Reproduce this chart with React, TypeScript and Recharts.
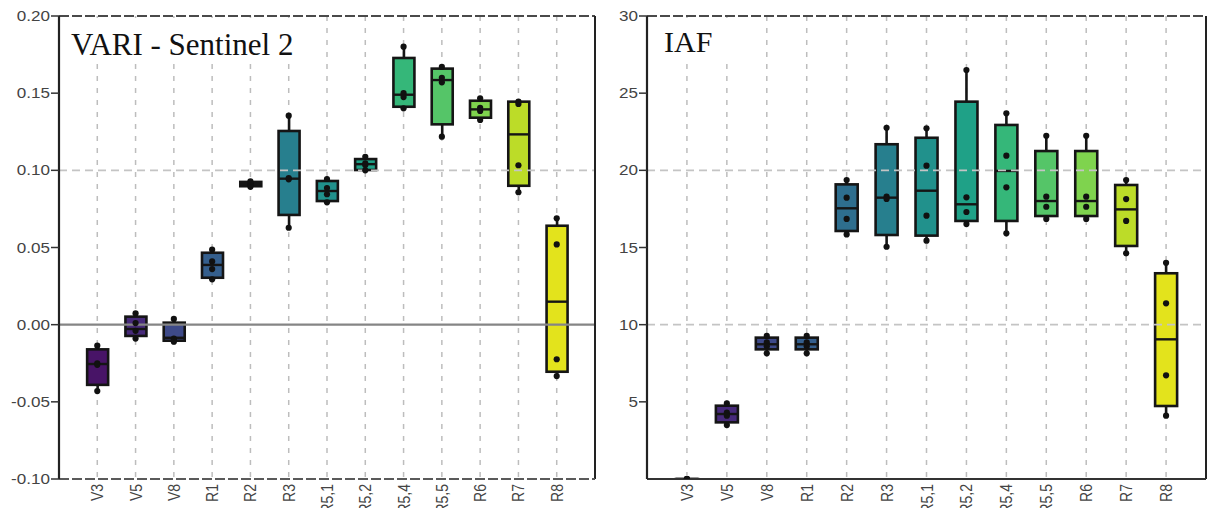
import React from 'react';
import { ComposedChart, Bar, Scatter, XAxis, YAxis, CartesianGrid, ReferenceLine } from 'recharts';

const categories = ['V3', 'V5', 'V8', 'R1', 'R2', 'R3', 'R5,1', 'R5,2', 'R5,4', 'R5,5', 'R6', 'R7', 'R8'];
const boxColors = ['#481467', '#472a7a', '#3e4a89', '#355f8d', '#2e6e8e', '#277f8e', '#21918c', '#1fa187', '#35b779', '#55c568', '#7fd34e', '#bcdc28', '#e3e31c'];

// VARI - Sentinel 2
const variMin = [-0.043, -0.009, -0.011, 0.0294, 0.0893, 0.0628, 0.0793, 0.1, 0.1402, 0.1218, 0.1326, 0.0858, -0.0333];
const variQ1 = [-0.039, -0.0073, -0.0104, 0.0304, 0.0897, 0.0711, 0.0801, 0.1002, 0.1412, 0.1298, 0.1341, 0.09, -0.0305];
const variMedian = [-0.0255, -0.0028, -0.0085, 0.0387, 0.091, 0.0946, 0.0866, 0.104, 0.149, 0.1585, 0.1395, 0.1233, 0.0149];
const variQ3 = [-0.016, 0.0052, 0.0013, 0.0466, 0.0925, 0.1255, 0.0931, 0.1073, 0.1728, 0.1659, 0.1451, 0.1445, 0.0641];
const variMax = [-0.0136, 0.0073, 0.0037, 0.0486, 0.0928, 0.1354, 0.0944, 0.1088, 0.1801, 0.167, 0.1467, 0.1445, 0.0689];
const variInnerA = [-0.025, 0.001, -0.009, 0.041, 0.091, 0.095, 0.0885, 0.1045, 0.15, 0.16, 0.1405, 0.143, 0.052];
const variInnerB = [-0.026, -0.004, -0.01, 0.036, 0.0905, 0.0942, 0.0845, 0.1035, 0.1475, 0.157, 0.1385, 0.1033, -0.0224];
const variTicks = [-0.1, -0.05, 0, 0.05, 0.1, 0.15, 0.2];

// IAF
const iafMin = [0, 3.5, 8.14, 8.14, 15.85, 15.05, 15.44, 16.52, 15.92, 16.85, 16.85, 14.62, 4.1];
const iafQ1 = [0, 3.67, 8.4, 8.4, 16.07, 15.81, 15.77, 16.72, 16.72, 17.04, 17.04, 15.1, 4.73];
const iafMedian = [0, 4.21, 8.73, 8.73, 17.54, 18.23, 18.68, 17.8, 19.96, 18.01, 18.01, 17.47, 9.05];
const iafQ3 = [0, 4.75, 9.16, 9.16, 19.09, 21.69, 22.11, 24.45, 22.94, 21.25, 21.25, 19.05, 13.33];
const iafMax = [0, 4.9, 9.27, 9.27, 19.37, 22.76, 22.72, 26.5, 23.7, 22.24, 22.24, 19.37, 14.01];
const iafInnerA = [0, 4.3, 8.85, 8.85, 18.23, 18.3, 20.3, 18.25, 20.95, 18.29, 18.29, 18.14, 11.38];
const iafInnerB = [0, 4.1, 8.6, 8.6, 16.85, 18.15, 17.06, 17.3, 18.9, 17.64, 17.64, 16.72, 6.72];
const iafTicks = [5, 10, 15, 20, 25, 30];

const xTicks = categories.map((_, i) => i + 1);
const sansFont = "'Liberation Sans', Arial, sans-serif";
const serifFont = "'Liberation Serif', 'Times New Roman', serif";

function buildRows(mins: number[], q1: number[], med: number[], q3: number[], maxs: number[]) {
  return categories.map((c, i) => ({
    x: i + 1,
    name: c,
    range: [mins[i], maxs[i]],
    min: mins[i],
    q1: q1[i],
    med: med[i],
    q3: q3[i],
    max: maxs[i],
    color: boxColors[i],
  }));
}

function buildPoints(mins: number[], a: number[], b: number[], maxs: number[]) {
  const pts: { x: number; y: number }[] = [];
  categories.forEach((_, i) => {
    pts.push({ x: i + 1, y: mins[i] });
    pts.push({ x: i + 1, y: a[i] });
    pts.push({ x: i + 1, y: b[i] });
    pts.push({ x: i + 1, y: maxs[i] });
  });
  return pts;
}

const variRows = buildRows(variMin, variQ1, variMedian, variQ3, variMax);
const variPoints = buildPoints(variMin, variInnerA, variInnerB, variMax);
const iafRows = buildRows(iafMin, iafQ1, iafMedian, iafQ3, iafMax);
const iafPoints = buildPoints(iafMin, iafInnerA, iafInnerB, iafMax);

function BoxShape(props: any) {
  const { x, y, width, height } = props;
  const d = props.payload && props.payload.q1 !== undefined ? props.payload : props;
  if (x == null || y == null) return null;
  const h = height || 0;
  const top = Math.min(y, y + h);
  const bottom = Math.max(y, y + h);
  const span = d.max - d.min;
  const toPx = (v: number) => (span === 0 ? top : bottom - ((v - d.min) / span) * (bottom - top));
  const cx = x + width / 2;
  const yq3 = toPx(d.q3);
  const yq1 = toPx(d.q1);
  const ym = toPx(d.med);
  return (
    <g>
      <line x1={cx} x2={cx} y1={top} y2={bottom} stroke="#151515" strokeWidth={2.6} />
      <rect x={x} y={yq3} width={width} height={Math.max(yq1 - yq3, 0.5)} fill={d.color} stroke="#151515" strokeWidth={2.6} />
      <line x1={x} x2={x + width} y1={ym} y2={ym} stroke="#151515" strokeWidth={2.4} />
    </g>
  );
}

function PointShape(props: any) {
  const { cx, cy } = props;
  if (cx == null || cy == null) return null;
  return <circle cx={cx} cy={cy} r={3.1} fill="#111" />;
}

function YTick(props: any) {
  const { x, y, payload, fmt } = props;
  return (
    <g transform={`translate(${x},${y})`}>
      <text transform="scale(1.22,1)" textAnchor="end" dy="0.36em" fontSize={14} fill="#444" fontFamily={sansFont}>
        {fmt(payload.value)}
      </text>
    </g>
  );
}

function XTick(props: any) {
  const { x, y, payload } = props;
  const label = categories[Math.round(payload.value) - 1];
  if (!label) return null;
  return (
    <g transform={`translate(${x},${y}) scale(1.2,1) rotate(-90)`}>
      <text textAnchor="end" dy="0.36em" fontSize={14} fill="#444" fontFamily={sansFont}>
        {label}
      </text>
    </g>
  );
}

type PanelProps = {
  width: number;
  rows: any[];
  points: any[];
  yDomain: [number, number];
  yTicks: number[];
  fmt: (v: number) => string;
  yAxisWidth: number;
  marginRight: number;
  barSize: number;
  gridY: number[];
  zeroLine: boolean;
  bottomDashed: boolean;
};

function Panel(p: PanelProps) {
  return (
    <ComposedChart
      width={p.width}
      height={508}
      data={p.rows}
      margin={{ top: 16, right: p.marginRight, bottom: 0, left: 0 }}
    >
      <CartesianGrid horizontal={false} vertical stroke="#bdbdbd" strokeWidth={1.5} strokeDasharray="5 7" />
      {p.gridY.map((g) => (
        <ReferenceLine key={g} y={g} stroke="#c4c4c4" strokeWidth={1.6} strokeDasharray="8 5" />
      ))}
      {p.zeroLine && <ReferenceLine y={0} stroke="#858585" strokeWidth={2.4} />}
      <ReferenceLine y={p.yDomain[1]} stroke="#4a4a4a" strokeWidth={2} strokeDasharray="10 3" />
      <ReferenceLine x={14} stroke="#222" strokeWidth={2} />
      <XAxis
        dataKey="x"
        type="number"
        domain={[0, 14]}
        ticks={xTicks}
        interval={0}
        height={29}
        tickSize={0}
        tickMargin={5}
        tickLine={false}
        axisLine={p.bottomDashed ? { stroke: '#5a5a5a', strokeWidth: 2, strokeDasharray: '10 3' } : { stroke: '#333', strokeWidth: 2 }}
        tick={(tp: any) => <XTick {...tp} />}
        allowDataOverflow
      />
      <YAxis
        type="number"
        domain={p.yDomain}
        ticks={p.yTicks}
        interval={0}
        width={p.yAxisWidth}
        tickSize={8}
        tickMargin={1}
        axisLine={{ stroke: '#222', strokeWidth: 2.2 }}
        tickLine={{ stroke: '#333', strokeWidth: 1.5 }}
        tick={(tp: any) => <YTick {...tp} fmt={p.fmt} />}
        allowDataOverflow
      />
      <Bar dataKey="range" barSize={p.barSize} isAnimationActive={false} shape={(sp: any) => <BoxShape {...sp} />} />
      <Scatter data={p.points} dataKey="y" isAnimationActive={false} shape={(sp: any) => <PointShape {...sp} />} />
    </ComposedChart>
  );
}

export default function App() {
  return (
    <div style={{ position: 'absolute', left: 0, top: 0, width: 1208, height: 508, background: '#fff', overflow: 'hidden' }}>
      <div style={{ position: 'absolute', left: 0, top: 0 }}>
        <Panel
          width={600}
          rows={variRows}
          points={variPoints}
          yDomain={[-0.1, 0.2]}
          yTicks={variTicks}
          fmt={(v) => v.toFixed(2)}
          yAxisWidth={59}
          marginRight={5}
          barSize={21}
          gridY={[0.1]}
          zeroLine
          bottomDashed
        />
      </div>
      <div style={{ position: 'absolute', left: 604, top: 0 }}>
        <Panel
          width={604}
          rows={iafRows}
          points={iafPoints}
          yDomain={[0, 30]}
          yTicks={iafTicks}
          fmt={(v) => String(v)}
          yAxisWidth={43}
          marginRight={2}
          barSize={22}
          gridY={[10, 20]}
          zeroLine={false}
          bottomDashed={false}
        />
      </div>
      <svg width={1208} height={508} style={{ position: 'absolute', left: 0, top: 0, pointerEvents: 'none' }}>
        <rect x={63} y={18} width={247} height={45} fill="#fff" />
        <text x={71} y={55} fontSize={31} fontFamily={serifFont} fill="#111">VARI - Sentinel 2</text>
        <rect x={650} y={18} width={93} height={42} fill="#fff" />
        <text x={664} y={52} fontSize={30} fontFamily={serifFont} fill="#111">IAF</text>
      </svg>
    </div>
  );
}
